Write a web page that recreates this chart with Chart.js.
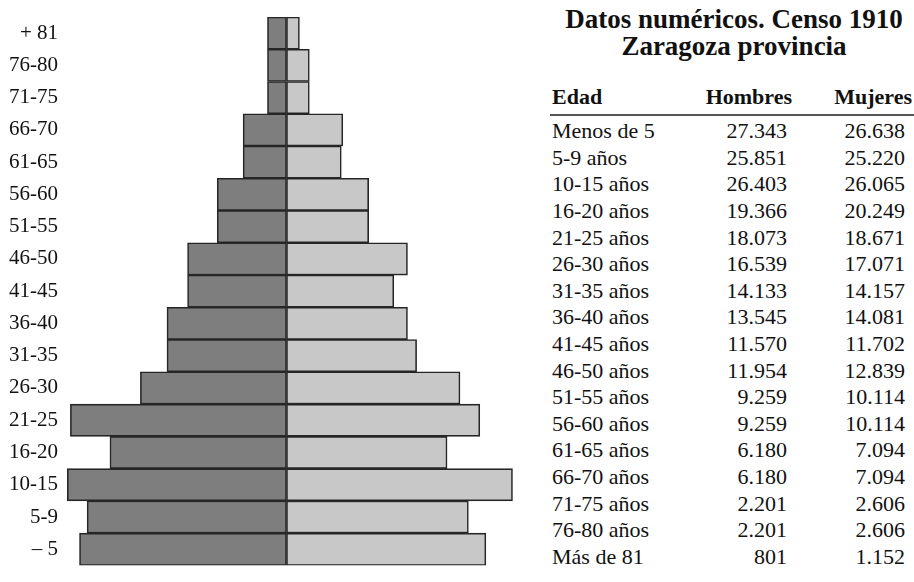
<!DOCTYPE html>
<html>
<head>
<meta charset="utf-8">
<script src="https://cdn.jsdelivr.net/npm/chart.js@4.4.1/dist/chart.umd.min.js"></script>
<style>
  body { margin: 0; background: #fff; width: 914px; height: 582px; overflow: hidden; position: relative; font-family: "Liberation Serif", "DejaVu Serif", serif; color: #111; }
  #wrap { position: absolute; left: 0; top: 0; width: 530px; height: 582px; }
  #title { position: absolute; left: 554px; width: 360px; top: 6px; text-align: center; font-weight: bold; font-size: 27px; line-height: 27px; }
  #tbl { position: absolute; left: 552px; top: 80px; border-collapse: collapse; font-size: 22px; }
  #tbl th { font-weight: bold; text-align: left; padding: 0; height: 38px; line-height: 34px; vertical-align: top; }
  #tbl td { padding: 0; height: 26.6px; line-height: 22px; }
  #tbl td.n { text-align: right; }
  #rule { position: absolute; left: 550px; top: 114px; width: 364px; height: 2px; background: #555; }
</style>
</head>
<body>
<div id="wrap"><canvas id="pyramid"></canvas></div>
<div id="title">Datos numéricos. Censo 1910<br>Zaragoza provincia</div>
<div id="rule"></div>
<table id="tbl"></table>
<script>
// PYRAMID (bar lengths, thousands)

const ageLabels = ["+ 81", "76-80", "71-75", "66-70", "61-65", "56-60", "51-55", "46-50", "41-45",
  "36-40", "31-35", "26-30", "21-25", "16-20", "10-15", "5-9", "– 5"];

const menBars = [2.5, 2.5, 2.5, 5.7, 5.7, 9.1, 9.1, 13.0, 13.0, 15.7, 15.7, 19.2, 28.4, 23.2, 28.8, 26.2, 27.2];

const womenBars = [1.7, 3.0, 3.0, 7.4, 7.2, 10.8, 10.8, 15.9, 14.1, 15.9, 17.1, 22.8, 25.4, 21.1, 29.7, 23.9, 26.2];

// TABLE (census figures)

const tableAges = ["Menos de 5", "5-9 años", "10-15 años", "16-20 años", "21-25 años", "26-30 años",
  "31-35 años", "36-40 años", "41-45 años", "46-50 años", "51-55 años", "56-60 años",
  "61-65 años", "66-70 años", "71-75 años", "76-80 años", "Más de 81"];

const tableMen = ["27.343", "25.851", "26.403", "19.366", "18.073", "16.539", "14.133", "13.545",
  "11.570", "11.954", "9.259", "9.259", "6.180", "6.180", "2.201", "2.201", "801"];

const tableWomen = ["26.638", "25.220", "26.065", "20.249", "18.671", "17.071", "14.157", "14.081",
  "11.702", "12.839", "10.114", "10.114", "7.094", "7.094", "2.606", "2.606", "1.152"];


// BUILD TABLE

let html = '<tr><th style="width:150px">Edad</th>' +
  '<th style="width:90px;text-align:right">Hombres</th>' +
  '<th style="width:120px;text-align:right;padding-right:2px">Mujeres</th></tr>';

for (let i = 0; i < tableAges.length; i++) {
  html += '<tr><td>' + tableAges[i] + '</td><td class="n" style="padding-right:5px">' + tableMen[i] +
    '</td><td class="n" style="padding-right:9px">' + tableWomen[i] + '</td></tr>';
}

document.getElementById("tbl").innerHTML = html;


// CHART

const ctx = document.getElementById("pyramid");

new Chart(ctx, {

  type: "bar",

  data: {
    labels: ageLabels,
    datasets: [{
      label: "Hombres",
      data: menBars.map(v => -v),
      backgroundColor: "#7e7e7e",
      borderColor: "#262626",
      borderWidth: 1.6,
      borderSkipped: false
    }, {
      label: "Mujeres",
      data: womenBars,
      backgroundColor: "#c8c8c8",
      borderColor: "#262626",
      borderWidth: 1.6,
      borderSkipped: false
    }]
  },

  options: {
    indexAxis: "y",
    responsive: true,
    maintainAspectRatio: false,
    animation: false,
    layout: { padding: { top: 17, bottom: 16, right: 0 } },
    datasets: { bar: { barPercentage: 1, categoryPercentage: 1 } },
    plugins: { legend: { display: false }, tooltip: { enabled: false } },
    scales: {
      x: {
        stacked: true,
        min: -29.5,
        max: 32,
        display: false
      },
      y: {
        stacked: true,
        grid: { display: false, drawTicks: false, tickLength: 0 },
        border: { display: false },
        afterFit: (scale) => { scale.width = 62; },
        ticks: {
          color: "#111",
          padding: 4,
          font: { family: "Liberation Serif", size: 21 }
        }
      }
    }
  }
});
</script>
</body>
</html>
